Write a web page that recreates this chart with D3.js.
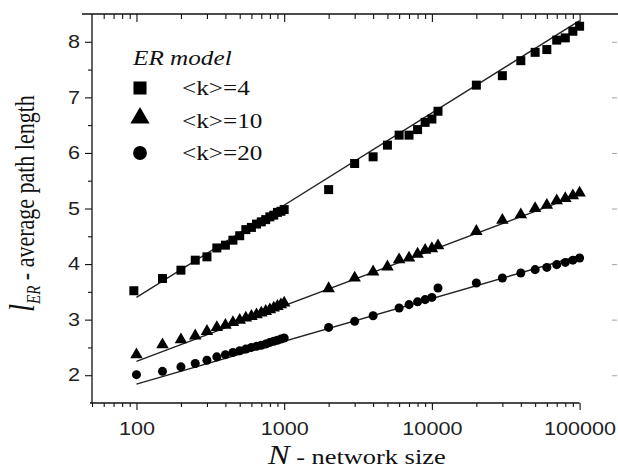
<!DOCTYPE html>
<meta charset="utf-8">
<script src="https://d3js.org/d3.v7.min.js"></script>
<style>
  body { margin: 0; background: #fff; }
  .tick text { font-family: Arial, "Liberation Sans", Helvetica, sans-serif; font-size: 18px; fill: #222; }
  .serif { font-family: "Times New Roman", "Liberation Serif", Times, serif; fill: #111; }
</style>
<div id="chart"></div>
<script>
// data
var nK4 = [96,150,200,250,300,350,400,450,500,550,600,650,700,750,800,850,900,950,1000,
           2000,3000,4000,5000,6000,7000,8000,9000,10000,11000,
           20000,30000,40000,50000,60000,70000,80000,90000,100000];
var lK4 = [3.52,3.74,3.89,4.07,4.13,4.29,4.34,4.43,4.51,4.62,4.66,4.72,4.76,4.80,4.85,4.88,4.93,4.95,4.98,
           5.34,5.81,5.93,6.14,6.32,6.32,6.42,6.55,6.61,6.75,
           7.22,7.39,7.66,7.81,7.86,8.03,8.07,8.19,8.28];

var nK10 = [100,150,200,250,300,350,400,450,500,550,600,650,700,750,800,850,900,950,1000,
            2000,3000,4000,5000,6000,7000,8000,9000,10000,11000,
            20000,30000,40000,50000,60000,70000,80000,90000,100000];
var lK10 = [2.37,2.55,2.64,2.71,2.79,2.86,2.90,2.95,2.99,3.03,3.06,3.09,3.12,3.15,3.18,3.21,3.24,3.27,3.30,
            3.56,3.75,3.86,3.95,4.08,4.11,4.18,4.25,4.28,4.33,
            4.59,4.79,4.89,5.00,5.06,5.14,5.18,5.23,5.28];

var nK20 = [100,150,200,250,300,350,400,450,500,550,600,650,700,750,800,850,900,950,1000,
            2000,3000,4000,6000,7000,8000,9000,10000,11000,
            20000,30000,40000,50000,60000,70000,80000,90000,100000];
var lK20 = [2.01,2.07,2.15,2.21,2.27,2.33,2.37,2.41,2.44,2.47,2.50,2.52,2.54,2.56,2.59,2.61,2.63,2.65,2.67,
            2.86,2.97,3.07,3.21,3.27,3.32,3.36,3.40,3.57,
            3.66,3.75,3.84,3.90,3.94,3.99,4.03,4.07,4.11];

// fitted lines (end points)
var fitN = [100, 100000];
var fitK4 = [3.40, 8.38];
var fitK10 = [2.25, 5.25];
var fitK20 = [1.84, 4.15];

var xMajor = [100, 1000, 10000, 100000];
var xMinor = [50,60,70,80,90,200,300,400,500,600,700,800,900,
              2000,3000,4000,5000,6000,7000,8000,9000,
              20000,30000,40000,50000,60000,70000,80000,90000];
var yMajor = [2, 3, 4, 5, 6, 7, 8];
var yMinor = [2.5, 3.5, 4.5, 5.5, 6.5, 7.5];
var legendLabels = ["<k>=4", "<k>=10", "<k>=20"];

var W = 618, H = 470;
var mLeft = 92, mTop = 14, mBottom = 403, mRight = 579.6;
var stretch = 1.2;

var svg = d3.select("#chart").append("svg")
  .attr("width", W).attr("height", H);

var x = d3.scaleLog().domain([50, 100000]).range([mLeft, mRight]);
var y = d3.scaleLinear().domain([1.5, 8.5]).range([mBottom, mTop]);

// frame lines
svg.append("line").attr("x1", 82).attr("x2", 618).attr("y1", mTop).attr("y2", mTop)
  .attr("stroke", "#111").attr("stroke-width", 1.3);
svg.append("line").attr("x1", mLeft).attr("x2", mLeft).attr("y1", mTop).attr("y2", mBottom)
  .attr("stroke", "#111").attr("stroke-width", 1.3);
svg.append("line").attr("x1", 90).attr("x2", mRight).attr("y1", mBottom).attr("y2", mBottom)
  .attr("stroke", "#111").attr("stroke-width", 1.3);

function styleAxis(g, col) {
  g.select(".domain").remove();
  g.selectAll("line").attr("stroke", col || "#111").attr("stroke-width", 1.1);
}

// bottom axis
var bx = svg.append("g").attr("transform", "translate(0," + mBottom + ")")
  .call(d3.axisBottom(x).tickValues(xMajor).tickSize(7).tickPadding(12)
    .tickFormat(d3.format("d")));
styleAxis(bx);
bx.selectAll("text").attr("transform", "scale(" + stretch + ",1)");
var bxm = svg.append("g").attr("transform", "translate(0," + mBottom + ")")
  .call(d3.axisBottom(x).tickValues(xMinor).tickSize(4).tickFormat(""));
styleAxis(bxm);

// top axis (ticks inside)
var tx = svg.append("g").attr("transform", "translate(0," + mTop + ")")
  .call(d3.axisBottom(x).tickValues(xMajor).tickSize(8).tickFormat(""));
styleAxis(tx);
var txm = svg.append("g").attr("transform", "translate(0," + mTop + ")")
  .call(d3.axisBottom(x).tickValues(xMinor.filter(function(d) { return d > 50; })).tickSize(5).tickFormat(""));
styleAxis(txm);

// left axis
var ly = svg.append("g").attr("transform", "translate(" + mLeft + ",0)")
  .call(d3.axisLeft(y).tickValues(yMajor).tickSize(7).tickPadding(3).tickFormat(d3.format("d")));
styleAxis(ly);
ly.selectAll("text").attr("transform", "scale(" + stretch + ",1)");
var lym = svg.append("g").attr("transform", "translate(" + mLeft + ",0)")
  .call(d3.axisLeft(y).tickValues(yMinor).tickSize(4).tickFormat(""));
styleAxis(lym);

// faint right ticks
var ry = svg.append("g").attr("transform", "translate(612,0)")
  .call(d3.axisRight(y).tickValues(yMajor).tickSize(5).tickFormat(""));
styleAxis(ry, "#aaa");

// fit lines
var line = d3.line().x(function(d) { return x(d[0]); }).y(function(d) { return y(d[1]); });
[fitK4, fitK10, fitK20].forEach(function(f) {
  svg.append("path")
    .attr("d", line(fitN.map(function(n, i) { return [n, f[i]]; })))
    .attr("fill", "none").attr("stroke", "#222").attr("stroke-width", 1.4);
});

// markers
function series(ns, ls, shape, size) {
  svg.append("g").selectAll("path")
    .data(ns.map(function(n, i) { return [n, ls[i]]; }))
    .enter().append("path")
    .attr("transform", function(d) { return "translate(" + x(d[0]) + "," + y(d[1]) + ")"; })
    .attr("d", d3.symbol().type(shape).size(size))
    .attr("fill", "#000");
}
series(nK4, lK4, d3.symbolSquare, 81);
series(nK10, lK10, d3.symbolTriangle, 68);
series(nK20, lK20, d3.symbolCircle, 64);

// legend
svg.append("text").attr("class", "serif")
  .attr("transform", "translate(133,65) scale(" + stretch + ",1)")
  .style("font-size", "21px").style("font-style", "italic").text("ER model");
var legShapes = [[d3.symbolSquare, 170], [d3.symbolTriangle, 160], [d3.symbolCircle, 150]];
var legY = [88, 118, 153];
var legText = [95, 128, 160];
legendLabels.forEach(function(t, i) {
  svg.append("path")
    .attr("transform", "translate(140," + legY[i] + ")")
    .attr("d", d3.symbol().type(legShapes[i][0]).size(legShapes[i][1]))
    .attr("fill", "#000");
  svg.append("text").attr("class", "serif")
    .attr("transform", "translate(182," + legText[i] + ") scale(" + stretch + ",1)")
    .style("font-size", "21px").text(t);
});

// x title
var xt = svg.append("text").attr("class", "serif")
  .attr("transform", "translate(268,464) scale(" + stretch + ",1)")
  .style("font-size", "22px");
xt.append("tspan").style("font-style", "italic").style("font-size", "27px").text("N");
xt.append("tspan").text(" - network size");

// y title
var yt = svg.append("text").attr("class", "serif")
  .attr("transform", "translate(34,312) rotate(-90) scale(1," + stretch + ")")
  .style("font-size", "22px");
yt.append("tspan").style("font-style", "italic").style("font-size", "29px").text("l");
yt.append("tspan").style("font-style", "italic").style("font-size", "15px").attr("dy", 5).text("ER");
yt.append("tspan").attr("dy", -5).text(" - average path length");
</script>
